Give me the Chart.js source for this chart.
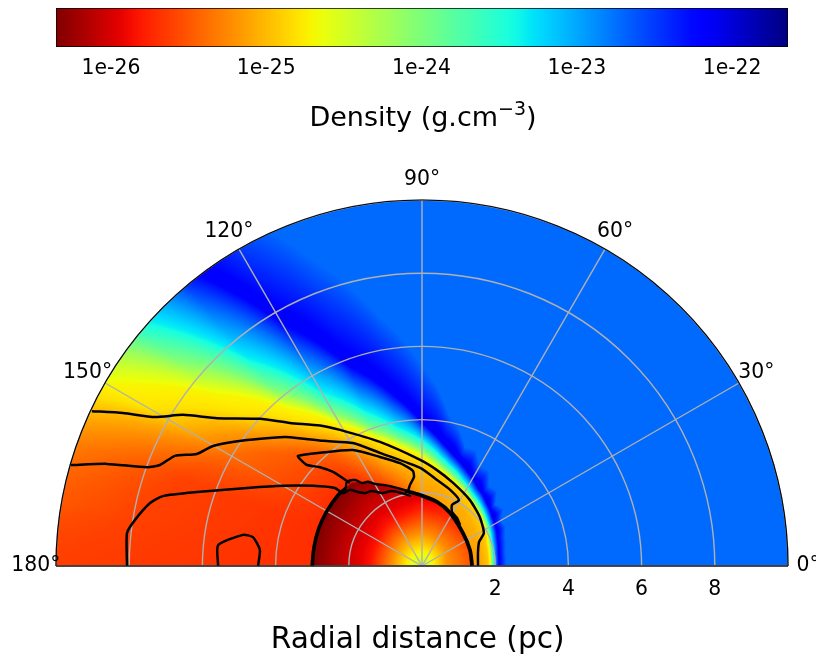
<!DOCTYPE html>
<html>
<head>
<meta charset="utf-8">
<script src="https://cdn.jsdelivr.net/npm/chart.js@4"></script>
<style>
body { margin: 0; background: #fff; width: 816px; height: 657px; overflow: hidden; position: relative; }
canvas { position: absolute; left: 0; }
#barChart { top: 0; }
#polarChart { top: 150px; }
</style>
</head>
<body>
<canvas id="barChart" width="816" height="150"></canvas>
<canvas id="polarChart" width="816" height="507"></canvas>
<script>
// colorbar range and ticks, log10 of density
const barRange = [-26.354, -21.64];
const barTicks = [-26, -25, -24, -23, -22];

// polar axis
const radialTicks = [2, 4, 6, 8];
const ringValues = [2, 4, 6, 8, 10];
const angleTicks = [0, 30, 60, 90, 120, 150, 180];

// density field, one radial profile per angle
const rowAngles = [0, 10, 20, 25, 30, 35, 40, 45, 50, 55, 60, 65, 70, 75, 80, 85, 90, 100, 110, 120, 130, 140, 150, 160, 170, 180];
const rowRadii = [
  [0, .30, .68, 1.30, 1.37, 1.41, 1.60, 1.80, 1.86, 1.92, 1.97, 2.10, 2.30, 60],
  [0, .30, .68, 1.30, 1.37, 1.41, 1.61, 1.81, 1.87, 1.93, 1.98, 2.12, 2.32, 60],
  [0, .31, .70, 1.30, 1.38, 1.42, 1.63, 1.85, 1.91, 1.98, 2.03, 2.20, 2.42, 60],
  [0, .32, .72, 1.32, 1.39, 1.43, 1.66, 1.90, 1.96, 2.03, 2.08, 2.26, 2.52, 60],
  [0, .33, .74, 1.34, 1.41, 1.45, 1.70, 1.95, 2.00, 2.07, 2.13, 2.30, 2.50, 60],
  [0, .33, .75, 1.35, 1.43, 1.47, 1.73, 2.00, 2.05, 2.12, 2.18, 2.36, 2.72, 60],
  [0, .34, .76, 1.36, 1.46, 1.50, 1.77, 2.05, 2.10, 2.17, 2.24, 2.42, 2.62, 60],
  [0, .34, .77, 1.38, 1.48, 1.52, 1.80, 2.09, 2.14, 2.22, 2.30, 2.50, 2.90, 60],
  [0, .35, .78, 1.39, 1.50, 1.54, 1.84, 2.14, 2.19, 2.27, 2.36, 2.58, 2.85, 60],
  [0, .35, .78, 1.40, 1.53, 1.57, 1.88, 2.20, 2.25, 2.33, 2.42, 2.66, 3.20, 60],
  [0, .35, .78, 1.40, 1.57, 1.61, 1.94, 2.27, 2.33, 2.42, 2.52, 2.78, 3.15, 60],
  [0, .36, .80, 1.45, 1.62, 1.66, 2.00, 2.34, 2.40, 2.50, 2.62, 2.92, 3.50, 60],
  [0, .36, .82, 1.50, 1.68, 1.72, 2.07, 2.42, 2.48, 2.60, 2.75, 3.05, 3.45, 60],
  [0, .37, .84, 1.52, 1.74, 1.78, 2.14, 2.50, 2.58, 2.70, 2.87, 3.22, 3.90, 60],
  [0, .37, .86, 1.55, 1.80, 1.84, 2.22, 2.60, 2.68, 2.83, 3.03, 3.42, 4.20, 60],
  [0, .38, .87, 1.58, 1.84, 1.88, 2.30, 2.72, 2.82, 3.00, 3.24, 3.68, 4.90, 60],
  [0, .38, .88, 1.60, 1.86, 1.90, 2.38, 2.86, 2.98, 3.18, 3.45, 3.95, 5.50, 60],
  [0, .38, .87, 1.55, 2.01, 2.05, 2.62, 3.20, 3.30, 3.52, 3.85, 4.85, 7.00, 60],
  [0, .37, .86, 1.50, 2.28, 2.32, 2.96, 3.60, 3.72, 4.00, 4.50, 5.90, 9.00, 60],
  [0, .37, .85, 1.50, 2.58, 2.62, 3.40, 4.25, 4.45, 4.85, 5.50, 7.80, 11.5, 60],
  [0, .37, .85, 1.50, 2.96, 3.00, 4.00, 5.15, 5.60, 6.30, 7.40, 11.0, 15.0, 60],
  [0, .37, .82, 1.45, 2.97, 3.01, 4.80, 6.50, 7.30, 8.80, 10.6, 16.0, 20.0, 60],
  [0, .37, .80, 1.40, 2.97, 3.01, 6.00, 8.60, 9.90, 13.0, 16.0, 22.0, 27.0, 60],
  [0, .37, .80, 1.40, 2.97, 3.01, 7.00, 14.0, 18.0, 22.0, 26.0, 32.0, 36.0, 60],
  [0, .37, .80, 1.40, 2.97, 3.01, 8.00, 22.0, 26.0, 30.0, 34.0, 40.0, 44.0, 60],
  [0, .37, .80, 1.40, 2.97, 3.01, 10.0, 30.0, 34.0, 38.0, 42.0, 48.0, 52.0, 60]
];
const rowDensity = [
  [-24.4, -24.7, -25.2, -25.5, -25.55, -25.15, -25.1, -24.95, -24.7, -24.0, -23.34, -22.15, -22.72, -22.72],
  [-24.4, -24.7, -25.2, -25.5, -25.55, -25.15, -25.1, -24.95, -24.7, -24.0, -23.34, -22.15, -22.72, -22.72],
  [-24.4, -24.7, -25.2, -25.5, -25.55, -25.14, -25.1, -24.93, -24.7, -24.0, -23.34, -22.15, -22.72, -22.72],
  [-24.4, -24.7, -25.2, -25.55, -25.6, -25.12, -25.08, -24.92, -24.7, -24.0, -23.34, -22.1, -22.72, -22.72],
  [-24.4, -24.7, -25.2, -25.55, -25.6, -25.1, -25.06, -24.9, -24.7, -24.0, -23.34, -22.15, -22.72, -22.72],
  [-24.4, -24.7, -25.2, -25.58, -25.62, -25.1, -25.06, -24.9, -24.7, -24.0, -23.34, -22.05, -22.72, -22.72],
  [-24.4, -24.7, -25.2, -25.6, -25.65, -25.1, -25.06, -24.9, -24.7, -24.0, -23.34, -22.15, -22.72, -22.72],
  [-24.4, -24.7, -25.2, -25.62, -25.67, -25.1, -25.06, -24.9, -24.7, -24.0, -23.34, -22.05, -22.72, -22.72],
  [-24.4, -24.7, -25.2, -25.63, -25.68, -25.1, -25.06, -24.9, -24.7, -24.0, -23.34, -22.15, -22.72, -22.72],
  [-24.4, -24.7, -25.2, -25.64, -25.69, -25.1, -25.06, -24.9, -24.7, -24.0, -23.34, -22.05, -22.72, -22.72],
  [-24.4, -24.7, -25.2, -25.65, -25.7, -25.1, -25.06, -24.9, -24.7, -24.0, -23.34, -22.15, -22.72, -22.72],
  [-24.4, -24.7, -25.2, -25.7, -25.75, -25.1, -25.06, -24.9, -24.7, -24.0, -23.34, -22.05, -22.72, -22.72],
  [-24.4, -24.7, -25.2, -25.72, -25.8, -25.12, -25.07, -24.9, -24.7, -24.0, -23.34, -22.1, -22.72, -22.72],
  [-24.4, -24.7, -25.2, -25.75, -25.85, -25.13, -25.08, -24.9, -24.7, -24.0, -23.34, -22.05, -22.72, -22.72],
  [-24.4, -24.7, -25.2, -25.78, -25.9, -25.14, -25.08, -24.9, -24.7, -24.0, -23.34, -22.1, -22.72, -22.72],
  [-24.4, -24.7, -25.2, -25.8, -25.92, -25.15, -25.08, -24.9, -24.7, -24.0, -23.34, -22.1, -22.72, -22.72],
  [-24.4, -24.7, -25.2, -25.8, -25.95, -25.15, -25.05, -24.85, -24.7, -24.0, -23.34, -22.15, -22.72, -22.72],
  [-24.4, -24.7, -25.2, -25.84, -26.0, -25.35, -25.1, -24.8, -24.7, -24.0, -23.34, -22.15, -22.72, -22.72],
  [-24.4, -24.7, -25.2, -25.84, -26.1, -25.5, -25.15, -24.8, -24.7, -24.0, -23.34, -22.15, -22.72, -22.72],
  [-24.4, -24.7, -25.2, -25.84, -26.2, -25.6, -25.3, -24.8, -24.7, -24.0, -23.34, -22.15, -22.72, -22.72],
  [-24.4, -24.7, -25.2, -25.84, -26.3, -25.7, -25.45, -24.8, -24.7, -24.0, -23.34, -22.15, -22.72, -22.72],
  [-24.4, -24.7, -25.2, -25.84, -26.35, -25.7, -25.45, -24.8, -24.7, -24.0, -23.34, -22.15, -22.72, -22.72],
  [-24.4, -24.7, -25.2, -25.84, -26.35, -25.7, -25.4, -24.8, -24.7, -24.0, -23.34, -22.15, -22.72, -22.72],
  [-24.4, -24.7, -25.2, -25.84, -26.35, -25.7, -25.6, -24.85, -24.7, -24.0, -23.34, -22.15, -22.72, -22.72],
  [-24.4, -24.7, -25.2, -25.84, -26.35, -25.7, -25.6, -24.85, -24.7, -24.0, -23.34, -22.15, -22.72, -22.72],
  [-24.4, -24.7, -25.2, -25.84, -26.35, -25.7, -25.62, -25.35, -24.7, -24.0, -23.34, -22.15, -22.72, -22.72]
];

// contour lines in pc
const contourOuterX = [-9.02, -8.17, -7.30, -6.53, -5.60, -4.43, -3.61, -2.79, -2.24, -1.15, -.05, .41, .85, 1.31, 1.58, 1.69, 1.56, 1.53, 1.53];
const contourOuterY = [4.23, 4.18, 4.07, 4.13, 4.04, 4.02, 3.91, 3.84, 3.72, 3.39, 2.90, 2.62, 2.27, 1.80, 1.34, .90, .66, .38, 0];
const contourSecondX = [-9.59, -8.61, -7.51, -7.16, -6.75, -6.15, -5.71, -4.78, -3.88, -3.61, -2.70, -1.89, -1.15, -.05, .41, .77, 1.01, .82, .82, .96, 1.04];
const contourSecondY = [2.76, 2.79, 2.70, 2.76, 3.01, 3.06, 3.28, 3.44, 3.52, 3.52, 3.42, 3.36, 3.09, 2.68, 2.35, 2.08, 1.80, 1.67, 1.48, 1.31, 1.12];
const bubbleLeftX = [-3.0, -2.95, -2.82, -2.6, -2.3, -2.08];
const bubbleLeftY = [0, .52, 1.03, 1.5, 1.93, 2.13];
const bubbleRightX = [-.46, -.05, .41, .77, 1.12, 1.31, 1.37];
const bubbleRightY = [2.05, 1.94, 1.75, 1.45, .90, .44, 0];
const bubbleTopX = [-2.08, -2.05, -1.83, -1.64, -1.48, -1.28, -1.01, -.66, -.38];
const bubbleTopY = [2.13, 2.30, 2.35, 2.27, 2.30, 2.24, 2.21, 2.13, 2.05];
const contourLoopX = [-1.97, -2.43, -2.79, -3.14, -3.36, -3.39, -2.84, -1.89, -1.15, -.60, -.25, -.22, -.33, -.38];
const contourLoopY = [2.27, 2.57, 2.70, 2.76, 2.95, 3.01, 3.09, 3.17, 2.98, 2.81, 2.60, 2.43, 2.21, 2.05];
const contourInnerX = [-8.06, -8.06, -7.84, -7.43, -7.08, -6.15, -4.78, -3.80, -2.98, -2.38, -2.16, -1.97, -1.75, -1.56, -1.37, -1.09, -.82, -.55, -.30];
const contourInnerY = [0, .90, 1.26, 1.72, 1.91, 2.02, 2.13, 2.19, 2.19, 2.13, 1.99, 2.08, 2.02, 1.99, 2.05, 1.99, 2.05, 1.99, 1.91];
const contourSmallX = [-5.57, -5.57, -4.89, -4.62, -4.43, -4.48];
const contourSmallY = [0, .57, .85, .79, .44, 0];

// reversed jet
function jetChannel(t, stops) {
  for (let i = 1; i < stops.length; i++) {
    if (t <= stops[i][0]) {
      const a = stops[i - 1], b = stops[i];
      return a[1] + (b[1] - a[1]) * (t - a[0]) / (b[0] - a[0]);
    }
  }
  return stops[stops.length - 1][1];
}
const jetR = [[0, 0], [.35, 0], [.66, 1], [.89, 1], [1, .5]];
const jetG = [[0, 0], [.125, 0], [.375, 1], [.64, 1], [.91, 0], [1, 0]];
const jetB = [[0, .5], [.11, 1], [.34, 1], [.65, 0], [1, 0]];
function densityColor(v) {
  let t = 1 - (v - barRange[0]) / (barRange[1] - barRange[0]);
  t = Math.min(1, Math.max(0, t));
  return [jetChannel(t, jetR) * 255, jetChannel(t, jetG) * 255, jetChannel(t, jetB) * 255];
}

function densityAt(r, deg) {
  let i = 0;
  while (i < rowAngles.length - 2 && deg > rowAngles[i + 1]) i++;
  const f = (deg - rowAngles[i]) / (rowAngles[i + 1] - rowAngles[i]);
  const n = rowRadii[i].length;
  let prevR = 0, prevV = rowDensity[i][0] + (rowDensity[i + 1][0] - rowDensity[i][0]) * f;
  for (let j = 1; j < n; j++) {
    const nr = rowRadii[i][j] + (rowRadii[i + 1][j] - rowRadii[i][j]) * f;
    const nv = rowDensity[i][j] + (rowDensity[i + 1][j] - rowDensity[i][j]) * f;
    if (r <= nr) return prevV + (nv - prevV) * (r - prevR) / (nr - prevR);
    prevR = nr; prevV = nv;
  }
  return prevV;
}

const fontName = '"DejaVu Sans"';

// axis title with a raised exponent
const barTitlePlugin = {
  id: 'barTitle',
  afterDraw(chart) {
    const ctx = chart.ctx;
    const base = 'Density (g.cm', sup = '−3', end = ')';
    ctx.save();
    ctx.fillStyle = '#000';
    ctx.textBaseline = 'alphabetic';
    ctx.textAlign = 'left';
    ctx.font = '27px ' + fontName;
    const w1 = ctx.measureText(base).width, w3 = ctx.measureText(end).width;
    ctx.font = '19px ' + fontName;
    const w2 = ctx.measureText(sup).width;
    let px = chart.scales.x.getPixelForValue(-24) + 1.5 - (w1 + w2 + w3) / 2;
    ctx.font = '27px ' + fontName;
    ctx.fillText(base, px, 126);
    ctx.fillText(end, px + w1 + w2, 126);
    ctx.font = '19px ' + fontName;
    ctx.fillText(sup, px + w1, 115);
    ctx.restore();
  }
};

// colorbar, one floating bar with the colormap as fill
new Chart(document.getElementById('barChart'), {
  type: 'bar',
  data: {
    labels: ['density'],
    datasets: [{
      data: [barRange],
      borderColor: '#000',
      borderWidth: 1,
      borderSkipped: false,
      categoryPercentage: 1,
      barPercentage: 1,
      backgroundColor: function(c) {
        const area = c.chart.chartArea;
        if (!area) return '#000';
        const g = c.chart.ctx.createLinearGradient(area.left, 0, area.right, 0);
        for (let i = 0; i <= 60; i++) {
          const col = densityColor(barRange[0] + (barRange[1] - barRange[0]) * i / 60);
          g.addColorStop(i / 60, 'rgb(' + col.map(Math.round).join(',') + ')');
        }
        return g;
      }
    }]
  },
  plugins: [barTitlePlugin],
  options: {
    indexAxis: 'y',
    responsive: false,
    animation: false,
    devicePixelRatio: 1,
    layout: { padding: { left: 56, right: 28, top: 8, bottom: 0 } },
    plugins: { legend: { display: false }, tooltip: { enabled: false } },
    scales: {
      y: { display: false },
      x: {
        min: barRange[0],
        max: barRange[1],
        afterBuildTicks: function(axis) { axis.ticks = barTicks.map(v => ({ value: v })); },
        afterFit: function(axis) { axis.height = 103; },
        grid: { display: false, drawTicks: true, tickLength: 5, tickColor: '#000' },
        border: { display: false },
        ticks: {
          color: '#000',
          padding: 4,
          maxRotation: 0,
          font: { family: fontName, size: 20.4 },
          callback: v => '1e' + v
        }
      }
    }
  }
});

// heat field and polar grid go under the contour lines
const polarPlugin = {
  id: 'polarGrid',
  beforeDatasetsDraw(chart) {
    const { ctx, scales: { x, y } } = chart;
    const cx = x.getPixelForValue(0), cy = y.getPixelForValue(0);
    const radius = x.getPixelForValue(10) - cx;
    const left = Math.floor(cx - radius) - 1, top = Math.floor(cy - radius) - 1;
    const w = Math.ceil(radius * 2) + 2, h = Math.ceil(radius) + 2;

    const off = document.createElement('canvas');
    off.width = w; off.height = h;
    const offCtx = off.getContext('2d');
    const img = offCtx.createImageData(w, h);
    for (let py = 0; py < h; py++) {
      for (let px = 0; px < w; px++) {
        const vx = x.getValueForPixel(left + px + .5);
        const vy = y.getValueForPixel(top + py + .5);
        const r = Math.hypot(vx, vy);
        if (r > 10.1) continue;
        const deg = Math.max(0, Math.min(180, Math.atan2(vy, vx) * 180 / Math.PI));
        const col = densityColor(densityAt(r, deg));
        const k = (py * w + px) * 4;
        img.data[k] = col[0]; img.data[k + 1] = col[1]; img.data[k + 2] = col[2]; img.data[k + 3] = 255;
      }
    }
    offCtx.putImageData(img, 0, 0);

    ctx.save();
    ctx.beginPath();
    ctx.arc(cx, cy, radius, Math.PI, 0);
    ctx.closePath();
    ctx.clip();
    ctx.drawImage(off, left, top);
    ctx.restore();

    ctx.save();
    ctx.strokeStyle = '#b0b0b0';
    ctx.lineWidth = 1.4;
    ringValues.forEach(v => {
      ctx.beginPath();
      ctx.arc(cx, cy, x.getPixelForValue(v) - cx, Math.PI, 0);
      ctx.stroke();
    });
    angleTicks.forEach(a => {
      const rad = a * Math.PI / 180;
      ctx.beginPath();
      ctx.moveTo(cx, cy);
      ctx.lineTo(x.getPixelForValue(10 * Math.cos(rad)), y.getPixelForValue(10 * Math.sin(rad)));
      ctx.stroke();
    });
    ctx.restore();
  },
  afterDatasetsDraw(chart) {
    const { ctx, scales: { x, y } } = chart;
    const cx = x.getPixelForValue(0), cy = y.getPixelForValue(0);
    const radius = x.getPixelForValue(10) - cx;
    ctx.save();
    ctx.strokeStyle = '#000';
    ctx.lineWidth = 1.2;
    ctx.beginPath();
    ctx.arc(cx, cy, radius, Math.PI, 0);
    ctx.stroke();
    ctx.strokeStyle = '#222';
    ctx.lineWidth = 1.4;
    ctx.beginPath();
    ctx.moveTo(cx - radius, cy);
    ctx.lineTo(cx + radius, cy);
    ctx.stroke();
    ctx.fillStyle = '#000';
    ctx.font = '20.4px ' + fontName;
    ctx.textAlign = 'center';
    ctx.textBaseline = 'middle';
    angleTicks.forEach(a => {
      const rad = a * Math.PI / 180;
      ctx.fillText(a + '°', x.getPixelForValue(10.55 * Math.cos(rad)), y.getPixelForValue(10.55 * Math.sin(rad)));
    });
    ctx.font = '29.6px ' + fontName;
    ctx.fillText('Radial distance (pc)', x.getPixelForValue(-.12), 490);
    ctx.restore();
  }
};

function contourData(xs, ys) {
  return xs.map((v, i) => ({ x: v, y: ys[i] }));
}
function contourSet(xs, ys, width, tension) {
  return {
    data: contourData(xs, ys),
    showLine: true,
    borderColor: '#000',
    borderWidth: width,
    borderJoinStyle: 'round',
    tension: tension,
    pointRadius: 0,
    clip: false
  };
}

new Chart(document.getElementById('polarChart'), {
  type: 'scatter',
  data: {
    datasets: [
      contourSet(contourOuterX, contourOuterY, 2.5, 0.2),
      contourSet(contourSecondX, contourSecondY, 2.5, 0.2),
      contourSet(bubbleLeftX, bubbleLeftY, 3.6, 0.4),
      contourSet(bubbleRightX, bubbleRightY, 3.8, 0.3),
      contourSet(bubbleTopX, bubbleTopY, 2.4, 0.3),
      contourSet(contourLoopX, contourLoopY, 2.5, 0.2),
      contourSet(contourInnerX, contourInnerY, 2.5, 0.2),
      contourSet(contourSmallX, contourSmallY, 2.5, 0.2)
    ]
  },
  plugins: [polarPlugin],
  options: {
    responsive: false,
    animation: false,
    devicePixelRatio: 1,
    layout: { padding: { left: 56, right: 28, top: 50, bottom: 0 } },
    plugins: { legend: { display: false }, tooltip: { enabled: false } },
    scales: {
      y: { display: false, min: 0, max: 10 },
      x: {
        type: 'linear',
        min: -10,
        max: 10,
        afterBuildTicks: function(axis) { axis.ticks = radialTicks.map(v => ({ value: v })); },
        afterFit: function(axis) { axis.height = 91; },
        grid: { display: false },
        border: { display: false },
        ticks: {
          color: '#000',
          padding: 3,
          maxRotation: 0,
          font: { family: fontName, size: 20.4 }
        }
      }
    }
  }
});
</script>
</body>
</html>
